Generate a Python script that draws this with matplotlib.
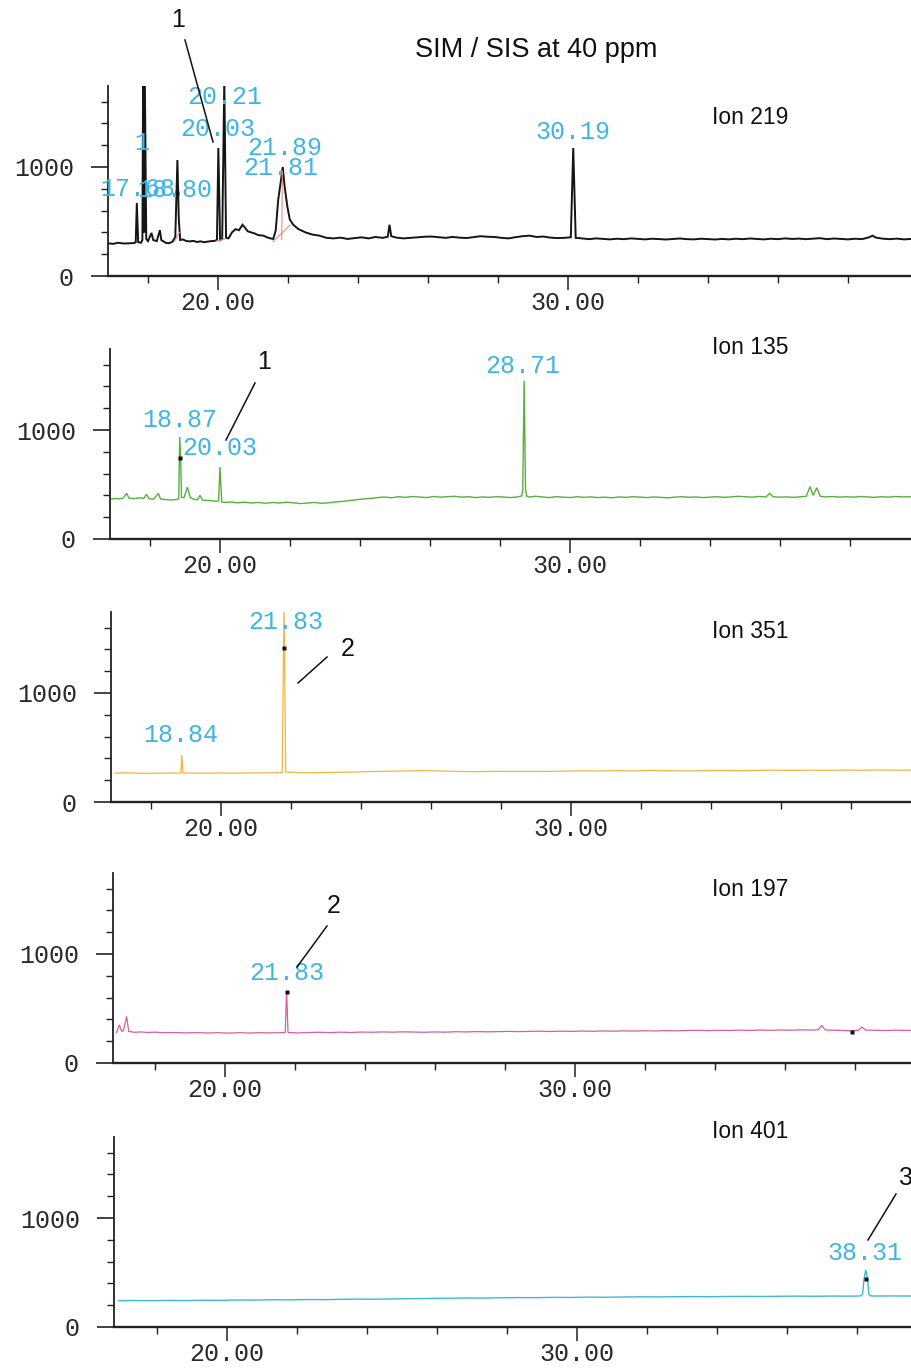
import matplotlib
matplotlib.use("Agg")
import matplotlib.pyplot as plt
from matplotlib.lines import Line2D

# ── Data (retention time [min], abundance) ──────────────────────────────────
T_219 = [16.86, 17.0, 17.15, 17.3, 17.45, 17.6, 17.65, 17.68, 17.72, 17.8, 17.84, 17.86, 17.89,
         17.91, 17.95, 18.0, 18.1, 18.15, 18.25, 18.34, 18.38, 18.5, 18.6, 18.7, 18.78, 18.84,
         18.88, 18.92, 19.0, 19.1, 19.2, 19.3, 19.4, 19.5, 19.6, 19.7, 19.8, 19.9, 19.97, 20.01,
         20.06, 20.12, 20.18, 20.23, 20.3, 20.4, 20.5, 20.6, 20.7, 20.78, 20.85, 20.95, 21.05,
         21.15, 21.3, 21.4, 21.5, 21.58, 21.65, 21.72, 21.8, 21.85, 21.9, 21.98, 22.05, 22.15,
         22.3, 22.5, 22.7, 22.9, 23.1, 23.3, 23.5, 23.7, 23.9, 24.1, 24.3, 24.5, 24.7, 24.85,
         24.9, 24.95, 25.1, 25.3, 25.5, 25.7, 25.9, 26.1, 26.3, 26.5, 26.7, 26.9, 27.1, 27.3,
         27.5, 27.7, 27.9, 28.1, 28.3, 28.5, 28.7, 28.9, 29.1, 29.3, 29.5, 29.7, 29.9, 30.08,
         30.15, 30.22, 30.4, 30.6, 30.8, 31.0, 31.2, 31.4, 31.6, 31.8, 32.0, 32.2, 32.4, 32.6,
         32.8, 33.0, 33.2, 33.4, 33.6, 33.8, 34.0, 34.2, 34.4, 34.6, 34.8, 35.0, 35.2, 35.4,
         35.6, 35.8, 36.0, 36.2, 36.4, 36.6, 36.8, 37.0, 37.2, 37.4, 37.6, 37.8, 38.0, 38.2,
         38.4, 38.6, 38.7, 38.8, 39.0, 39.2, 39.4, 39.6, 39.8]
I_219 = [300, 295, 305, 298, 300, 302, 310, 670, 310, 305, 330, 1800, 400,
         1800, 340, 320, 395, 330, 320, 420, 330, 305, 300, 315, 360, 1064,
         520, 330, 335, 320, 318, 322, 312, 318, 310, 315, 320, 322, 330, 1174,
         330, 340, 1800, 350, 345, 400, 430, 420, 470, 440, 410, 400, 390,
         375, 370, 355, 345, 340, 420, 700, 880, 1000, 830, 640, 520, 470,
         430, 400, 380, 370, 350, 345, 352, 340, 348, 355, 345, 358, 350, 360,
         470, 365, 352, 345, 350, 355, 360, 362, 356, 350, 358, 352, 348, 356,
         365, 360, 358, 350, 345, 356, 365, 370, 358, 362, 352, 348, 350, 355,
         1174, 350, 345, 338, 345, 340, 336, 342, 338, 345, 340, 336, 342, 338,
         335, 340, 344, 338, 336, 342, 338, 335, 340, 336, 342, 338, 344, 340,
         336, 342, 338, 345, 340, 343, 338, 342, 347, 338, 344, 340, 336, 342,
         338, 355, 370, 352, 342, 338, 343, 336, 340]

T_135 = [16.86, 17.0, 17.15, 17.25, 17.33, 17.4, 17.55, 17.7, 17.82, 17.9, 17.97, 18.1, 18.24,
         18.3, 18.45, 18.6, 18.75, 18.82, 18.85, 18.88, 18.9, 18.97, 19.07, 19.15, 19.25, 19.35,
         19.43, 19.5, 19.6, 19.75, 19.9, 19.96, 20.0, 20.05, 20.15, 20.3, 20.5, 20.7, 20.9,
         21.1, 21.3, 21.5, 21.7, 21.9, 22.1, 22.3, 22.5, 22.7, 22.9, 23.1, 23.3, 23.5, 23.7,
         23.9, 24.1, 24.3, 24.5, 24.7, 24.9, 25.1, 25.3, 25.5, 25.7, 25.9, 26.1, 26.3, 26.5,
         26.7, 26.9, 27.1, 27.3, 27.5, 27.7, 27.9, 28.1, 28.3, 28.5, 28.62, 28.65, 28.69,
         28.73, 28.77, 28.85, 29.0, 29.2, 29.4, 29.6, 29.8, 30.0, 30.2, 30.4, 30.6, 30.8,
         31.0, 31.2, 31.4, 31.6, 31.8, 32.0, 32.2, 32.4, 32.6, 32.8, 33.0, 33.2, 33.4, 33.6,
         33.8, 34.0, 34.2, 34.4, 34.6, 34.8, 35.0, 35.2, 35.4, 35.6, 35.71, 35.8, 36.0, 36.2,
         36.4, 36.6, 36.75, 36.86, 36.95, 37.05, 37.15, 37.3, 37.5, 37.7, 37.9, 38.1, 38.3,
         38.5, 38.7, 38.9, 39.1, 39.3, 39.5, 39.8]
I_135 = [365, 372, 368, 380, 420, 375, 370, 378, 372, 410, 370, 365, 418,
         368, 362, 358, 362, 370, 936, 700, 380, 380, 475, 380, 365, 360,
         400, 358, 355, 352, 345, 350, 660, 340, 335, 340, 332, 338, 330,
         335, 328, 335, 330, 338, 332, 325, 330, 335, 328, 332, 340, 345, 352,
         360, 368, 372, 380, 385, 378, 388, 382, 390, 385, 380, 390, 384, 388,
         392, 384, 388, 380, 386, 382, 388, 385, 380, 386, 395, 450, 1452,
         450, 390, 385, 392, 386, 380, 388, 384, 380, 388, 382, 386, 380,
         384, 378, 386, 382, 388, 384, 380, 386, 382, 378, 384, 388, 382, 386,
         380, 384, 388, 382, 386, 392, 388, 384, 390, 386, 420, 388, 384, 386,
         382, 388, 392, 480, 400, 470, 392, 386, 390, 384, 388, 384, 390,
         386, 382, 388, 384, 390, 386, 388]

T_351 = [16.97, 17.3, 17.8, 18.3, 18.85, 18.88, 18.91, 19.4, 19.9, 20.4, 20.9, 21.5, 21.75,
         21.8, 21.85, 22.3, 22.8, 23.3, 23.8, 24.3, 24.8, 25.3, 25.8, 26.3, 26.8, 27.3, 27.8,
         28.3, 28.8, 29.3, 29.8, 30.3, 30.8, 31.3, 31.8, 32.3, 32.8, 33.3, 33.8, 34.3, 34.8,
         35.3, 35.8, 36.3, 36.8, 37.3, 37.8, 38.3, 38.8, 39.3, 39.8]
I_351 = [265, 268, 262, 265, 266, 431, 266, 264, 266, 265, 267, 268, 270,
         1800, 275, 268, 270, 272, 275, 280, 282, 285, 288, 284, 280, 278, 282,
         280, 282, 280, 283, 286, 284, 288, 285, 290, 287, 285, 288, 290, 287,
         289, 292, 290, 292, 290, 293, 291, 294, 292, 293]

T_197 = [16.9, 16.98, 17.05, 17.1, 17.19, 17.25, 17.4, 17.6, 17.8, 18.0, 18.3, 18.6, 18.9,
         19.2, 19.5, 19.8, 20.1, 20.4, 20.7, 21.0, 21.3, 21.6, 21.72, 21.76, 21.8, 22.1, 22.4,
         22.7, 23.0, 23.3, 23.6, 23.9, 24.2, 24.5, 24.8, 25.1, 25.4, 25.7, 26.0, 26.3, 26.6,
         26.9, 27.2, 27.5, 27.8, 28.1, 28.4, 28.7, 29.0, 29.3, 29.6, 29.9, 30.2, 30.5, 30.8,
         31.1, 31.4, 31.7, 32.0, 32.3, 32.6, 32.9, 33.2, 33.5, 33.8, 34.1, 34.4, 34.7, 35.0,
         35.3, 35.6, 35.9, 36.2, 36.5, 36.8, 36.95, 37.05, 37.15, 37.5, 37.9, 38.1, 38.2,
         38.3, 38.6, 38.9, 39.2, 39.5, 39.8]
I_197 = [280, 350, 290, 300, 428, 290, 282, 285, 280, 283, 278, 280, 276,
         279, 275, 278, 274, 278, 275, 278, 276, 278, 280, 660, 280, 276, 280,
         282, 279, 283, 280, 284, 282, 285, 283, 286, 284, 282, 285, 283, 287,
         285, 288, 286, 288, 290, 288, 290, 292, 289, 292, 290, 293, 291, 294,
         292, 295, 293, 296, 294, 297, 295, 298, 300, 297, 300, 298, 301, 299,
         302, 300, 303, 301, 304, 302, 305, 345, 303, 300, 296, 300, 330,
         302, 300, 298, 301, 299, 300]

T_401 = [16.9, 17.3, 17.8, 18.3, 18.8, 19.3, 19.8, 20.3, 20.8, 21.3, 21.8, 22.3, 22.8, 23.3,
         23.8, 24.3, 24.8, 25.3, 25.8, 26.3, 26.8, 27.3, 27.8, 28.3, 28.8, 29.3, 29.8, 30.3,
         30.8, 31.3, 31.8, 32.3, 32.8, 33.3, 33.8, 34.3, 34.8, 35.3, 35.8, 36.3, 36.8, 37.3,
         37.8, 38.1, 38.16, 38.2, 38.25, 38.3, 38.34, 38.4, 38.6, 39.0, 39.4, 39.8]
I_401 = [240, 243, 241, 244, 242, 246, 244, 248, 247, 250, 249, 252, 251, 254,
         256, 255, 258, 260, 262, 264, 266, 265, 268, 270, 269, 272, 271, 274,
         273, 275, 277, 276, 278, 279, 278, 280, 281, 280, 282, 283, 282, 284,
         283, 285, 300, 440, 523, 440, 300, 285, 284, 285, 284, 285]

IONS = ["Ion 219", "Ion 135", "Ion 351", "Ion 197", "Ion 401"]
TRACES = [(T_219, I_219), (T_135, I_135), (T_351, I_351), (T_197, I_197), (T_401, I_401)]
COLORS = ["#151515", "#56b13c", "#f3b53e", "#d95d9d", "#3cb9d6"]
WIDTHS = [1.4, 1.0, 0.9, 0.9, 1.0]

# peak labels (text, time, abundance) per panel
PEAK_LABELS = [
    [("20.21", 20.20, 1642), ("20.03", 20.00, 1349), ("21.89", 21.91, 1170),
     ("21.81", 21.80, 995), ("30.19", 30.14, 1321), ("17.68", 17.71, 798),
     ("18.80", 18.77, 789), ("1", 17.83, 1220)],
    [("18.87", 18.86, 1092), ("20.03", 20.00, 835), ("28.71", 28.66, 1587)],
    [("21.83", 21.86, 1651), ("18.84", 18.86, 615)],
    [("21.83", 21.77, 826)],
    [("38.31", 38.23, 679)],
]
# apex marks printed by the integrator
APEX_MARKS = [
    [(18.82, 760)],
    [(18.85, 740)],
    [(21.8, 1413)],
    [(21.76, 650), (37.9, 280)],
    [(38.25, 440)],
]
# red integration baselines (t0, i0, t1, i1), ion 219 only
INTEG_219 = [(21.57, 315, 22.06, 468), (21.84, 960, 21.82, 335),
             (18.76, 320, 18.9, 400), (19.95, 320, 20.22, 340)]

# annotation numbers: (text, label x/y px, line x0,y0,x1,y1 px)
CALLOUTS = [
    ("1", 178, 20, 185, 40, 213, 142),
    ("1", 264, 362, 255, 383, 226, 440),
    ("2", 348, 649, 327, 657, 298, 683),
    ("2", 334, 906, 327, 926, 297, 967),
    ("3", 906, 1178, 896, 1194, 868, 1240),
]

# ── Layout (pixels of the scanned page) ─────────────────────────────────────
W, H = 911, 1370
SPINE_X = [108, 110, 111, 113, 114]
X20 = [218, 220, 221, 225, 227]
AXIS_Y = [276, 539, 802, 1063, 1327]
PX_PER_MIN = 35.0
PX_PER_1000 = 109.0
YTOP = 1740

MONO = "Liberation Mono"
SANS = "Liberation Sans"
LABEL_C = "#3fb6e2"

fig = plt.figure(figsize=(W / 100, H / 100), dpi=100, facecolor="white")


def fx(x):
    return x / W


def fy(y):
    return 1 - y / H


for k in range(5):
    left, x20, ay = SPINE_X[k], X20[k], AXIS_Y[k]
    height_px = YTOP * PX_PER_1000 / 1000
    ax = fig.add_axes([fx(left), fy(ay), (W - left) / W, height_px / H])
    t0 = 20 + (left - x20) / PX_PER_MIN
    t1 = 20 + (W - x20) / PX_PER_MIN
    ax.set_xlim(t0, t1)
    ax.set_ylim(0, YTOP)
    ax.patch.set_alpha(0)

    for s in ["top", "right"]:
        ax.spines[s].set_visible(False)
    ax.spines["left"].set_linewidth(1.3)
    ax.spines["bottom"].set_linewidth(1.7)
    ax.spines["left"].set_color("#222")
    ax.spines["bottom"].set_color("#222")

    ax.set_yticks([0, 1000])
    ax.set_yticklabels(["0", "1000"])
    ax.set_yticks([200, 400, 600, 800, 1200, 1400, 1600], minor=True)
    ax.set_xticks([20, 30])
    ax.set_xticklabels(["20.00", "30.00"])
    ax.set_xticks([18, 22, 24, 26, 28, 32, 34, 36, 38], minor=True)
    ax.tick_params(axis="y", which="major", length=12.5, width=1.2, pad=12,
                   color="#222", labelcolor="#2a2a2a")
    ax.tick_params(axis="y", which="minor", length=5, width=1.0, color="#222")
    ax.tick_params(axis="x", which="major", length=10, width=1.1, pad=1,
                   color="#222", labelcolor="#2a2a2a")
    ax.tick_params(axis="x", which="minor", length=5, width=1.0, color="#222")
    for lab in ax.get_xticklabels() + ax.get_yticklabels():
        lab.set_fontfamily(MONO)
        lab.set_fontsize(18)

    t, a = TRACES[k]
    ax.plot(t, a, color=COLORS[k], lw=WIDTHS[k], solid_joinstyle="miter")

    if k == 0:
        for x0, y0, x1, y1 in INTEG_219:
            ax.plot([x0, x1], [y0, y1], color="#f08a80", lw=0.8)

    for tm, ab in APEX_MARKS[k]:
        ax.plot(tm, ab, marker="s", ms=2.5, color="#111", mec="none")

    for txt, tm, ab in PEAK_LABELS[k]:
        ax.text(tm, ab, txt, ha="center", va="center", family=MONO,
                fontsize=18, color=LABEL_C, clip_on=False)

    fig.text(fx(750), fy([118, 347, 632, 889, 1132][k]), IONS[k],
             ha="center", va="center", family=SANS, fontsize=16.5, color="#111")

for txt, lx, ly, x0, y0, x1, y1 in CALLOUTS:
    fig.text(fx(lx), fy(ly), txt, ha="center", va="center", family=SANS,
             fontsize=18, color="#111")
    fig.add_artist(Line2D([fx(x0), fx(x1)], [fy(y0), fy(y1)],
                          color="#111", lw=1.1, transform=fig.transFigure))

fig.text(fx(536), fy(50), "SIM / SIS at 40 ppm", ha="center", va="center",
         family=SANS, fontsize=19.5, color="#111")

fig.savefig("out.png", dpi=100, facecolor="white")
